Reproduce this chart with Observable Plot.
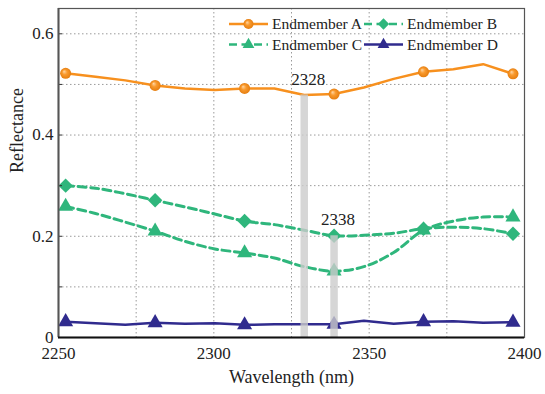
<!DOCTYPE html>
<html>
<head>
<meta charset="utf-8">
<script src="https://cdn.jsdelivr.net/npm/d3@7"></script>
<script src="https://cdn.jsdelivr.net/npm/@observablehq/plot@0.6"></script>
<style>
  html, body { margin: 0; padding: 0; background: #fff; }
  #chart { position: relative; width: 545px; height: 394px; }
  #chart svg text { font-family: "Liberation Serif", "Times New Roman", Times, serif; }
</style>
</head>
<body>
<div id="chart"></div>
<script>
const wavelengths = [2252.3, 2261.9, 2271.5, 2281.1, 2290.7, 2300.3, 2309.9, 2319.5, 2329.1, 2338.7, 2348.3, 2357.9, 2367.5, 2377.1, 2386.7, 2396.3];
const endmemberA = [0.522, 0.515, 0.508, 0.498, 0.492, 0.489, 0.492, 0.492, 0.479, 0.481, 0.494, 0.511, 0.525, 0.530, 0.540, 0.521];
const endmemberB = [0.300, 0.295, 0.284, 0.271, 0.258, 0.244, 0.230, 0.223, 0.212, 0.201, 0.202, 0.206, 0.215, 0.218, 0.215, 0.205];
const endmemberC = [0.259, 0.245, 0.228, 0.210, 0.190, 0.175, 0.167, 0.157, 0.140, 0.131, 0.140, 0.168, 0.212, 0.230, 0.238, 0.238];
const endmemberD = [0.031, 0.028, 0.025, 0.029, 0.027, 0.028, 0.025, 0.026, 0.026, 0.026, 0.033, 0.027, 0.031, 0.032, 0.029, 0.030];
const markerIndex = [0, 3, 6, 9, 12, 15];

const barWavelengths = [2329.1, 2338.7];
const barTops = [0.479, 0.201];
const barLabels = ["2328", "2338"];

const xTicks = [2250, 2300, 2350, 2400];
const yTicks = [0, 0.2, 0.4, 0.6];
const xGrid = [2275, 2300, 2325, 2350, 2375];
const yGrid = [0.1, 0.2, 0.3, 0.4, 0.5, 0.6];

const FONT = "Liberation Serif";
const ORANGE = "#f7901e", GREEN = "#2fb67c", NAVY = "#302b8e";

const series = [
  {name: "Endmember A", values: endmemberA, color: ORANGE, dash: null, curve: "linear", symbol: "circle", fill: "url(#ballGrad)", r: 5.5},
  {name: "Endmember B", values: endmemberB, color: GREEN, dash: "8,4.5", curve: "catmull-rom", symbol: "diamond2", fill: GREEN, r: 6.5},
  {name: "Endmember C", values: endmemberC, color: GREEN, dash: "8,4.5", curve: "catmull-rom", symbol: "triangle", fill: GREEN, r: 5.6},
  {name: "Endmember D", values: endmemberD, color: NAVY, dash: null, curve: "linear", symbol: "triangle", fill: NAVY, r: 5.6}
];

const lineMarks = [];
const dotMarks = [];
for (const s of series) {
  const pts = wavelengths.map((w, i) => ({w, v: s.values[i]}));
  lineMarks.push(Plot.line(pts, {x: "w", y: "v", stroke: s.color, strokeWidth: s.dash ? 3 : 2.5, strokeDasharray: s.dash, curve: s.curve}));
  dotMarks.push(Plot.dot(markerIndex.map(i => pts[i]), {x: "w", y: "v", symbol: s.symbol, r: s.r, fill: s.fill, stroke: "none"}));
}

const bars = barWavelengths.map((w, i) => ({w, top: barTops[i], label: barLabels[i]}));

const plot = Plot.plot({
  width: 545,
  height: 394,
  marginLeft: 58,
  marginRight: 21,
  marginTop: 8,
  marginBottom: 57,
  style: "font-family: 'Liberation Serif', 'Times New Roman', serif; font-size: 17px; color: #222; background: #fff;",
  x: {domain: [2250, 2400]},
  y: {domain: [0, 0.65]},
  marks: [
    Plot.gridX(xGrid, {stroke: "#9a9a9a", strokeOpacity: 1, strokeDasharray: "1.5,2.5", strokeWidth: 1}),
    Plot.gridY(yGrid, {stroke: "#9a9a9a", strokeOpacity: 1, strokeDasharray: "1.5,2.5", strokeWidth: 1}),
    ...lineMarks,
    ...dotMarks,
    Plot.ruleX(bars, {x: "w", y1: 0, y2: "top", stroke: "#cccccc", strokeWidth: 7.5, strokeOpacity: 0.8}),
    Plot.text(bars, {x: "w", y: "top", text: "label", dx: 4, dy: -16, fontSize: 17, fontFamily: FONT, fill: "#222"}),
    Plot.axisX({ticks: xTicks, tickSize: 0, tickPadding: 9, label: null, fontFamily: FONT, fontSize: 17, tickFormat: d => String(d)}),
    Plot.axisY({ticks: yTicks, tickSize: 0, tickPadding: 5, label: null, fontFamily: FONT, fontSize: 17, tickFormat: d => d === 0 ? "0" : d.toFixed(1)}),
    Plot.axisY({ticks: yGrid, tickSize: -4, text: null, label: null, stroke: "#333"}),
    Plot.frame({stroke: "#555", strokeWidth: 1.2}),
    Plot.ruleX([2250], {stroke: "#555", strokeWidth: 2}),
    Plot.ruleY([0], {stroke: "#111", strokeWidth: 2}),
    Plot.text(["Wavelength (nm)"], {frameAnchor: "bottom", dy: 45, fontSize: 18, fontFamily: FONT, fill: "#222"}),
    Plot.text(["Reflectance"], {frameAnchor: "left", rotate: -90, dx: -41, fontSize: 18, fontFamily: FONT, fill: "#222"})
  ]
});

document.getElementById("chart").appendChild(plot);

const svg = d3.select(plot);
const defs = svg.insert("defs", ":first-child");
const grad = defs.append("radialGradient").attr("id", "ballGrad").attr("cx", "50%").attr("cy", "50%").attr("r", "50%").attr("fx", "35%").attr("fy", "32%");
grad.append("stop").attr("offset", "0%").attr("stop-color", "#ffd7a6");
grad.append("stop").attr("offset", "45%").attr("stop-color", "#f99a2e");
grad.append("stop").attr("offset", "100%").attr("stop-color", "#e57e10");

// legend inside the plot area
const legendPos = [[229, 24], [364, 24], [229, 44.5], [364, 44.5]];
const lg = svg.append("g").attr("font-family", FONT).attr("font-size", "15.5px").attr("text-anchor", "start");
series.forEach((s, i) => {
  const [lx, ly] = legendPos[i];
  const g = lg.append("g").attr("transform", `translate(${lx},${ly})`);
  g.append("line").attr("x1", 0).attr("x2", 39).attr("y1", 0).attr("y2", 0)
    .attr("stroke", s.color).attr("stroke-width", s.dash ? 2.6 : 2.4).attr("stroke-dasharray", s.dash);
  const sym = {circle: d3.symbolCircle, diamond2: d3.symbolSquare, triangle: d3.symbolTriangle}[s.symbol];
  const size = s.symbol === "circle" ? Math.PI * 5 * 5 : s.symbol === "diamond2" ? 64 : 60;
  g.append("path").attr("d", d3.symbol(sym, size)())
    .attr("transform", `translate(19.5,0)${s.symbol === "diamond2" ? " rotate(45)" : ""}`)
    .attr("fill", s.fill);
  g.append("text").attr("x", 43).attr("y", 0).attr("dy", "0.35em").attr("text-anchor", "start").attr("fill", "#222").text(s.name);
});
</script>
</body>
</html>
